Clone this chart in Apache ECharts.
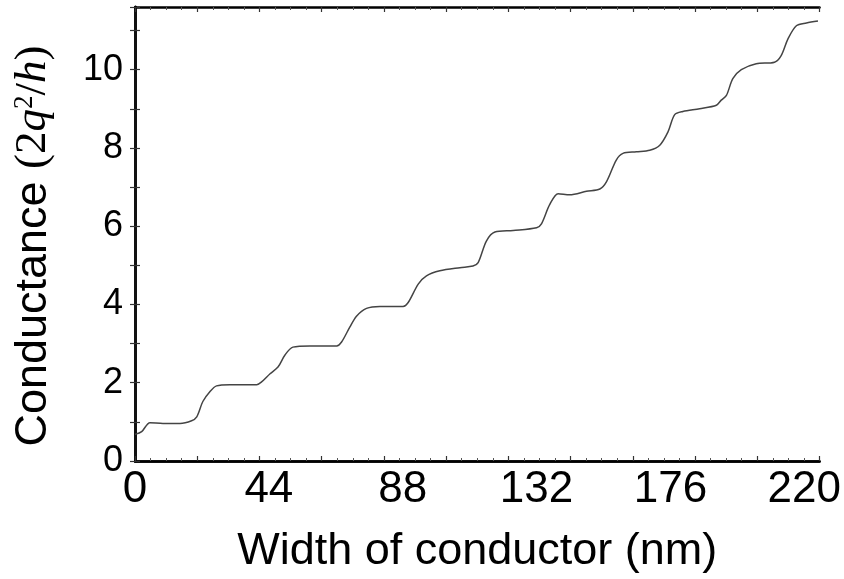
<!DOCTYPE html>
<html>
<head>
<meta charset="utf-8">
<script src="https://cdn.jsdelivr.net/npm/echarts@6/dist/echarts.min.js"></script>
<style>
  html, body { margin: 0; padding: 0; background: #fff; }
  #chart { width: 844px; height: 579px; }
</style>
</head>
<body>
<div id="chart"></div>
<script>
// conductance steps
let widthNm = [0, 2.2, 4.9, 9.2, 14.8, 18.6, 20.3, 22.3, 24.6, 26.8, 31.2, 40.0, 41.6, 44.4, 47.0, 49.3,
  51.9, 57.5, 66.3, 67.9, 70.6, 72.8, 76.1, 80.5, 88.1, 89.8, 93.1, 95.8, 100.2, 106.8, 111.1, 112.8,
  115.5, 118.3, 124.3, 132.0, 133.6, 136.3, 139.1, 142.9, 148.4, 152.8, 155.0, 158.2, 160.4, 164.8,
  169.2, 172.5, 175.2, 177.4, 180.1, 185.6, 191.1, 192.7, 194.4, 196.5, 199.3, 204.2, 210.2, 212.4,
  214.6, 217.4, 220.7, 224.5]
let conductance = [0.68, 0.75, 0.98, 0.96, 0.96, 1.03, 1.13, 1.52, 1.77, 1.92, 1.95, 1.95, 2.02, 2.23, 2.40, 2.71,
  2.91, 2.94, 2.94, 3.04, 3.42, 3.70, 3.90, 3.95, 3.95, 4.05, 4.52, 4.73, 4.86, 4.94, 4.98, 5.07,
  5.62, 5.85, 5.89, 5.96, 6.06, 6.55, 6.83, 6.80, 6.89, 6.95, 7.14, 7.69, 7.86, 7.90,
  7.94, 8.07, 8.41, 8.85, 8.93, 9.00, 9.09, 9.22, 9.34, 9.77, 10.00, 10.15, 10.19, 10.36,
  10.78, 11.12, 11.19, 11.24]
let xTickLabels = [0, 44, 88, 132, 176, 220]
let yTickLabels = [0, 2, 4, 6, 8, 10]

let sans = 'Liberation Sans, Arial, sans-serif'
let serif = 'Liberation Serif, Times New Roman, serif'

let frameLine = { show: true, lineStyle: { color: '#000', width: 2.5 } }

// axes that only carry the frame and the small inward tick marks
function tickAxis (position) {
  return {
    type: 'value',
    position: position,
    min: 0,
    max: 11,
    interval: 1,
    axisLine: frameLine,
    axisTick: { show: true, inside: true, length: 5, lineStyle: { color: '#333', width: 1.2 } },
    minorTick: { show: true, splitNumber: 4, length: 3, lineStyle: { color: '#555', width: 1 } },
    axisLabel: { show: false },
    splitLine: { show: false }
  }
}

let points = widthNm.map((x, i) => [x, conductance[i]])

let option = {
  animation: false,
  backgroundColor: '#fff',
  grid: { left: 135, right: 24, top: 7, bottom: 115 },
  xAxis: [
    {
      type: 'value',
      position: 'bottom',
      min: 0,
      max: 225,
      interval: 44,
      axisLine: frameLine,
      axisTick: { show: false },
      splitLine: { show: false },
      axisLabel: {
        color: '#000',
        fontFamily: sans,
        fontSize: 44,
        margin: 7,
        formatter: v => (xTickLabels.indexOf(v) >= 0 ? String(v) : '')
      },
      name: 'Width of conductor (nm)',
      nameLocation: 'middle',
      nameGap: 68,
      nameTextStyle: { color: '#000', fontFamily: sans, fontSize: 45 }
    },
    tickAxis('bottom'),
    tickAxis('top')
  ],
  yAxis: [
    {
      type: 'value',
      position: 'left',
      min: 0,
      max: 11.6,
      interval: 1,
      axisLine: frameLine,
      axisTick: { show: true, inside: true, length: 5, lineStyle: { color: '#333', width: 1.2 } },
      splitLine: { show: false },
      axisLabel: {
        color: '#000',
        fontFamily: sans,
        fontSize: 36,
        margin: 12,
        formatter: v => (yTickLabels.indexOf(v) >= 0 ? String(v) : '')
      },
      name: '{a|Conductance }{b|(2}{c|q}{s|2}{b|/}{c|h}{b|)}',
      nameLocation: 'middle',
      nameRotate: 90,
      nameGap: 79,
      nameTextStyle: {
        color: '#000',
        padding: [0, 24, 0, 0],
        rich: {
          a: { fontFamily: sans, fontSize: 45, color: '#000' },
          b: { fontFamily: serif, fontSize: 45, color: '#000' },
          c: { fontFamily: serif, fontStyle: 'italic', fontSize: 45, color: '#000' },
          s: { fontFamily: serif, fontSize: 27, color: '#000', verticalAlign: 'top', padding: [0, 0, 16, 0] }
        }
      }
    },
    {
      type: 'value',
      position: 'right',
      min: 0,
      max: 11.6,
      interval: 1,
      axisLine: { show: true, lineStyle: { color: '#111', width: 3 } },
      axisTick: { show: true, inside: true, length: 5, lineStyle: { color: '#333', width: 1.2 } },
      axisLabel: { show: false },
      splitLine: { show: false }
    }
  ],
  series: [
    {
      type: 'line',
      data: points,
      xAxisIndex: 0,
      yAxisIndex: 0,
      showSymbol: false,
      smooth: 0.3,
      lineStyle: { color: '#444', width: 1.5 }
    }
  ]
}

let chart = echarts.init(document.getElementById('chart'), null, { renderer: 'canvas' })
chart.setOption(option)
</script>
</body>
</html>
